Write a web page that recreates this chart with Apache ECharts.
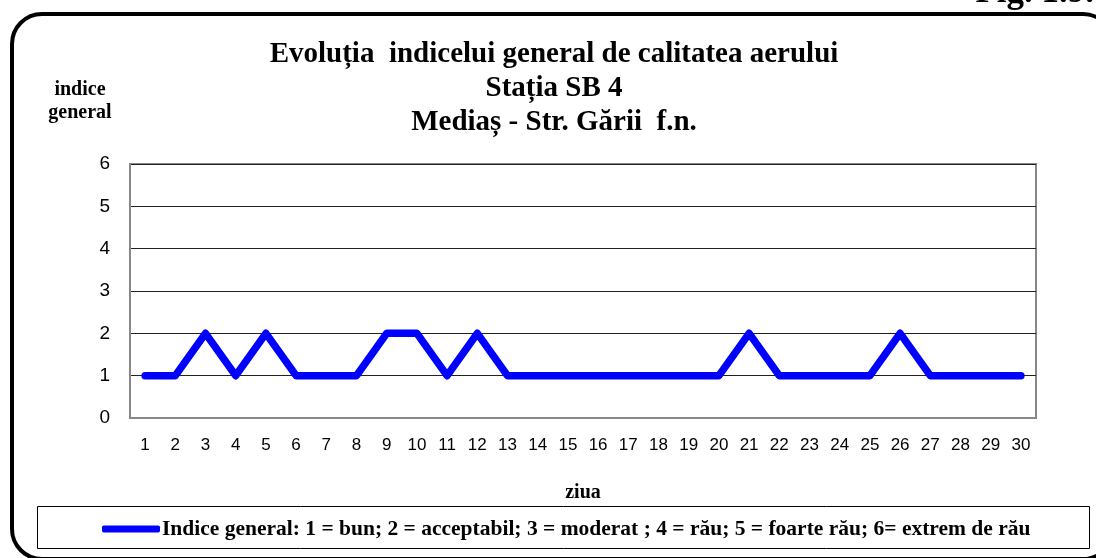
<!DOCTYPE html>
<html>
<head>
<meta charset="utf-8">
<script src="https://cdn.jsdelivr.net/npm/echarts@6/dist/echarts.min.js"></script>
<style>
  html, body { margin: 0; padding: 0; background: #fff; }
  #chart { width: 1096px; height: 558px; }
</style>
</head>
<body>
<div id="chart"></div>
<script>
// zilele lunii
const days = ['1', '2', '3', '4', '5', '6', '7', '8', '9', '10', '11', '12', '13', '14', '15',
  '16', '17', '18', '19', '20', '21', '22', '23', '24', '25', '26', '27', '28', '29', '30']
// indice general pe zile
const indice = [1, 1, 2, 1, 2, 1, 1, 1, 2, 2, 1, 2, 1, 1, 1, 1, 1, 1, 1, 1, 2, 1, 1, 1, 1, 2, 1, 1, 1, 1]
const seriesName = 'Indice general: 1 = bun; 2 = acceptabil; 3 = moderat ; 4 = rău; 5 = foarte rău; 6= extrem de rău'

const serif = "'Liberation Serif', 'DejaVu Serif', serif"
const sans = "'Liberation Sans', Arial, sans-serif"

const chart = echarts.init(document.getElementById('chart'))
chart.setOption({
  animation: false,
  backgroundColor: '#fff',
  title: {
    text: 'Evoluția  indicelui general de calitatea aerului\nStația SB 4\nMediaș - Str. Gării  f.n.',
    left: 549,
    top: 33,
    textAlign: 'center',
    textStyle: {
      fontFamily: serif,
      fontWeight: 'bold',
      fontSize: 29,
      lineHeight: 34,
      color: '#000'
    }
  },
  legend: {
    data: [seriesName],
    left: 102,
    top: 518,
    padding: 0,
    icon: 'roundRect',
    itemWidth: 58,
    itemHeight: 7,
    itemGap: 0,
    textStyle: {
      fontFamily: serif,
      fontWeight: 'bold',
      fontSize: 21.5,
      color: '#000',
      padding: [0, 0, 0, -3]
    }
  },
  grid: {
    left: 130,
    right: 60,
    top: 164,
    bottom: 140,
    show: true,
    borderColor: '#888',
    borderWidth: 2
  },
  xAxis: {
    type: 'category',
    data: days,
    boundaryGap: true,
    name: 'ziua',
    nameLocation: 'middle',
    nameGap: 65,
    nameTextStyle: {
      fontFamily: serif,
      fontWeight: 'bold',
      fontSize: 20,
      color: '#000'
    },
    axisLine: { lineStyle: { color: '#888', width: 2 } },
    axisTick: { show: false },
    axisLabel: {
      interval: 0,
      margin: 19,
      fontFamily: sans,
      fontSize: 17,
      color: '#000'
    }
  },
  yAxis: {
    type: 'value',
    min: 0,
    max: 6,
    interval: 1,
    axisLine: { show: true, lineStyle: { color: '#888', width: 2 } },
    axisTick: { show: false },
    splitLine: { lineStyle: { color: '#222', width: 1 } },
    axisLabel: {
      margin: 20,
      fontFamily: sans,
      fontSize: 19,
      color: '#000'
    }
  },
  series: [
    {
      name: seriesName,
      type: 'line',
      data: indice,
      showSymbol: false,
      symbol: 'none',
      color: '#0000ff',
      lineStyle: { color: '#0000ff', width: 7.5, cap: 'round', join: 'round' }
    }
  ],
  graphic: [
    // chenarul rotunjit al figurii
    {
      type: 'rect',
      shape: { x: 12, y: 14, width: 1101, height: 545, r: 30 },
      style: { fill: 'none', stroke: '#000', lineWidth: 4 },
      silent: true
    },
    // caseta legendei
    {
      type: 'rect',
      shape: { x: 37.5, y: 506.5, width: 1052, height: 42 },
      style: { fill: 'none', stroke: '#000', lineWidth: 1 },
      silent: true
    },
    {
      type: 'text',
      x: 80,
      y: 78,
      style: {
        text: 'indice\ngeneral',
        textAlign: 'center',
        font: "bold 20px 'Liberation Serif', serif",
        lineHeight: 23,
        fill: '#000'
      }
    },
    {
      type: 'text',
      x: 1094,
      y: -7,
      style: {
        text: 'Fig. 1.9.',
        textAlign: 'right',
        textVerticalAlign: 'middle',
        font: "bold 35px 'Liberation Serif', serif",
        fill: '#000'
      }
    }
  ]
})
</script>
</body>
</html>
